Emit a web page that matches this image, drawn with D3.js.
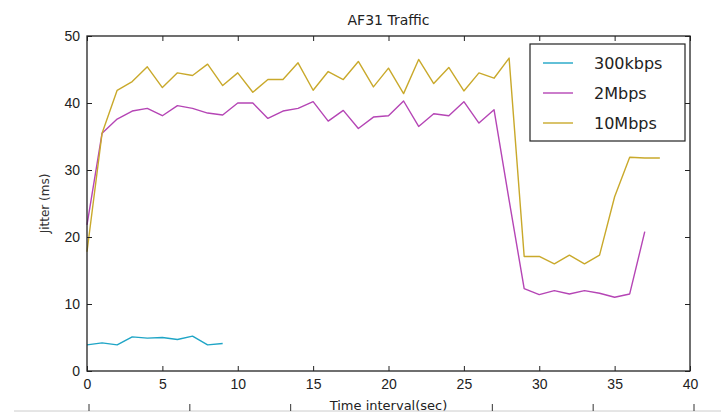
<!DOCTYPE html>
<html>
<head>
<meta charset="utf-8">
<script src="https://cdn.jsdelivr.net/npm/d3@7"></script>
<style>
  body { margin: 0; background: #fff; }
  svg { font-family: "DejaVu Sans", sans-serif; }
</style>
</head>
<body>
<div id="chart"></div>
<script>
const w = 721, h = 412;

// data
const seriesNames = ["300kbps", "2Mbps", "10Mbps"];
const seriesColors = ["#1fa5c6", "#b545b5", "#c9a92b"];
const t300k = [0, 1, 2, 3, 4, 5, 6, 7, 8, 9];
const jitter300k = [3.9, 4.2, 3.9, 5.1, 4.9, 5.0, 4.7, 5.2, 3.9, 4.1];
const t2M = d3.range(0, 38);
const jitter2M = [21.8, 35.5, 37.6, 38.8, 39.2, 38.1, 39.6, 39.2, 38.5, 38.2,
  40.0, 40.0, 37.7, 38.8, 39.2, 40.2, 37.3, 38.9, 36.2, 37.9,
  38.1, 40.3, 36.5, 38.4, 38.1, 40.2, 37.0, 39.0, 25.5, 12.3,
  11.4, 12.0, 11.5, 12.0, 11.6, 11.0, 11.5, 20.8];
const t10M = d3.range(0, 39);
const jitter10M = [17.8, 35.5, 41.9, 43.2, 45.4, 42.3, 44.5, 44.1, 45.8, 42.6,
  44.5, 41.6, 43.5, 43.5, 46.0, 41.9, 44.7, 43.5, 46.2, 42.4,
  45.2, 41.4, 46.5, 42.9, 45.3, 41.8, 44.5, 43.7, 46.7, 17.1,
  17.1, 16.0, 17.3, 16.0, 17.3, 26.0, 31.9, 31.8, 31.8];
const xTicks = [0, 5, 10, 15, 20, 25, 30, 35, 40];
const yTicks = [0, 10, 20, 30, 40, 50];

const series = [
  { name: seriesNames[0], color: seriesColors[0], pts: t300k.map((t, i) => [t, jitter300k[i]]) },
  { name: seriesNames[1], color: seriesColors[1], pts: t2M.map((t, i) => [t, jitter2M[i]]) },
  { name: seriesNames[2], color: seriesColors[2], pts: t10M.map((t, i) => [t, jitter10M[i]]) }
];

const m = { left: 87, right: 31, top: 36, bottom: 41 };
const iw = w - m.left - m.right, ih = h - m.top - m.bottom;

const svg = d3.select("#chart").append("svg")
  .attr("width", w).attr("height", h)
  .attr("viewBox", "0 0 " + w + " " + h);

const x = d3.scaleLinear().domain([0, 40]).range([0, iw]);
const y = d3.scaleLinear().domain([0, 50]).range([ih, 0]);

const g = svg.append("g").attr("transform", "translate(" + m.left + "," + m.top + ")");

// lines
const line = d3.line().x(d => x(d[0])).y(d => y(d[1]));
g.selectAll(null).data(series).enter().append("path")
  .attr("d", d => line(d.pts))
  .attr("fill", "none")
  .attr("stroke", d => d.color)
  .attr("stroke-width", 1.4)
  .attr("stroke-linejoin", "round");

// axes, ticks inside on all four sides
const styleAxis = sel => {
  sel.select(".domain").remove();
  sel.selectAll(".tick line").attr("stroke", "#222");
  sel.selectAll(".tick text").attr("fill", "#222").style("font-size", "14px");
};
g.append("g").attr("transform", "translate(0," + ih + ")")
  .call(d3.axisBottom(x).tickValues(xTicks).tickSizeInner(-5).tickSizeOuter(0).tickPadding(8))
  .call(styleAxis);
g.append("g")
  .call(d3.axisLeft(y).tickValues(yTicks).tickSizeInner(-5).tickSizeOuter(0).tickPadding(7))
  .call(styleAxis);
g.append("g")
  .call(d3.axisTop(x).tickValues(xTicks).tickSizeInner(-5).tickSizeOuter(0).tickFormat(""))
  .call(styleAxis);
g.append("g").attr("transform", "translate(" + iw + ",0)")
  .call(d3.axisRight(y).tickValues(yTicks).tickSizeInner(-5).tickSizeOuter(0).tickFormat(""))
  .call(styleAxis);

g.append("rect").attr("width", iw).attr("height", ih)
  .attr("fill", "none").attr("stroke", "#222").attr("stroke-width", 1.3);

// titles
svg.append("text").attr("x", m.left + iw / 2).attr("y", 25)
  .attr("text-anchor", "middle").style("font-size", "14px").attr("fill", "#222")
  .text("AF31 Traffic");
svg.append("text").attr("transform", "translate(49," + (m.top + ih / 2) + ") rotate(-90)")
  .attr("text-anchor", "middle").style("font-size", "12px").attr("fill", "#333")
  .text("Jitter (ms)");
svg.append("text").attr("x", m.left + iw / 2).attr("y", 410)
  .attr("text-anchor", "middle").style("font-size", "13px").attr("fill", "#222")
  .text("Time interval(sec)");

// the cut-off edge of a panel below
const below = d3.scaleLinear().domain([0, 6]).range([89, 694]);
svg.append("line").attr("x1", 14).attr("x2", w).attr("y1", 411).attr("y2", 411)
  .attr("stroke", "#ccc");
svg.selectAll(null).data(d3.range(0, 7).filter(i => i !== 3)).enter().append("line")
  .attr("x1", d => below(d)).attr("x2", d => below(d))
  .attr("y1", 404).attr("y2", 411).attr("stroke", "#333");

// legend
const lg = svg.append("g").attr("transform", "translate(530,44)");
lg.append("rect").attr("width", 155).attr("height", 97)
  .attr("fill", "#fff").attr("stroke", "#222").attr("stroke-width", 1.2);
const items = lg.selectAll(null).data(series).enter().append("g")
  .attr("transform", (d, i) => "translate(0," + (19 + i * 30) + ")");
items.append("line").attr("x1", 13).attr("x2", 43)
  .attr("stroke", d => d.color).attr("stroke-width", 1.4);
items.append("text").attr("x", 64).attr("dy", "0.35em")
  .style("font-size", "16px").attr("fill", "#222")
  .text(d => d.name);
</script>
</body>
</html>
